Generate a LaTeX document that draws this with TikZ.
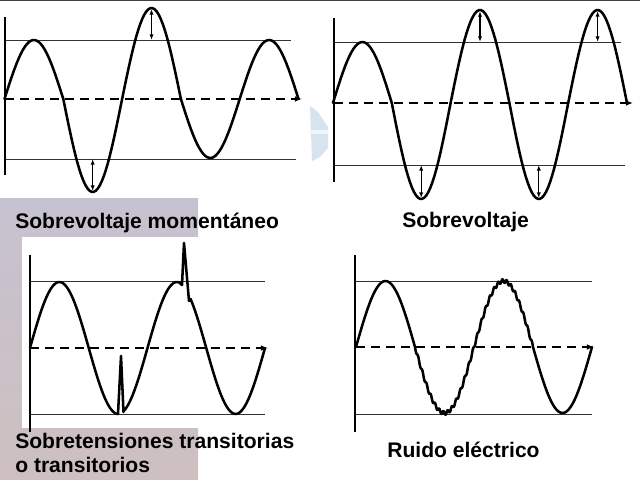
\documentclass[tikz,border=0pt]{standalone}
\usepackage{fontspec}
\setmainfont{Liberation Sans}
\usetikzlibrary{arrows.meta}
\definecolor{photoTop}{RGB}{198,194,208}
\definecolor{photoMid}{RGB}{204,160,160}
\definecolor{photoBot}{RGB}{206,192,192}
\definecolor{logoBlue}{RGB}{216,227,240}
\begin{document}
\begin{tikzpicture}[x=0.025cm,y=-0.025cm,
  wave/.style={line width=1.8pt,line cap=round,line join=round},
  axisline/.style={line width=1.6pt},
  refline/.style={line width=0.6pt,black!80},
  zeroline/.style={line width=1.5pt,dash pattern=on 6.4pt off 4.3pt,-{Latex[length=5pt,width=4pt]}},
  surge/.style={line width=0.8pt,{Latex[length=4pt,width=3pt]}-{Latex[length=4pt,width=3pt]}},
  caption/.style={font=\fontsize{15}{17}\selectfont\bfseries,anchor=base west,inner sep=0pt}]
\useasboundingbox (0,0) rectangle (640,480);
% background
\fill[top color=photoTop,middle color=photoMid,bottom color=photoBot] (0,198) rectangle (198,480);
\fill[white] (22,237) rectangle (200,428);
\fill[logoBlue] (310,106) -- (318,112) -- (328,127) -- (328,148) -- (320,157) -- (312,161) -- cycle;
\fill[white!60!logoBlue] (310,130) rectangle (328,134);
\fill[black!75] (0,0) rectangle (640,1.5);
% Sobrevoltaje momentaneo
\draw[refline] (5,40) -- (291,40);
\draw[refline] (5,159) -- (296,159);
\draw[zeroline] (5,99) -- (302,99);
\draw[axisline] (5,17) -- (5,175);
\foreach \a/\b/\amp in {0/180/59,180/360/93,360/540/91,540/720/59,720/900/59}
  \draw[wave] plot[domain=\a:\b,samples=30] ({4.5+\x/180*58.8},{99-\amp*sin(\x)});
\draw[surge] (92.7,159) -- (92.7,191);
\draw[surge] (151.5,40) -- (151.5,9);
\node[caption] (capA) at (15,228) {Sobrevoltaje momentáneo};
% Sobrevoltaje
\draw[refline] (334,42) -- (621,42);
\draw[refline] (334,165) -- (625,165);
\draw[zeroline] (334,103) -- (633,103);
\draw[axisline] (334,18) -- (334,182);
\foreach \a/\b/\amp in {0/180/61,180/360/96,360/540/93,540/720/96,720/900/93}
  \draw[wave] plot[domain=\a:\b,samples=30] ({333+\x/180*58.8},{103-\amp*sin(\x)});
\foreach \xs in {421.2,538.8} \draw[surge] (\xs,165) -- (\xs,198);
\foreach \xs in {480,597.6} \draw[surge] (\xs,42) -- (\xs,11);
\node[caption] (capB) at (402,227) {Sobrevoltaje};
% Sobretensiones transitorias
\draw[refline] (30,281) -- (265,281);
\draw[refline] (30,414) -- (265,414);
\draw[zeroline] (30,348) -- (268,348);
\draw[axisline] (30,255) -- (30,432);
\draw[wave] plot[domain=0:269.6,samples=60] ({30+\x/180*58.75},{348-66*sin(\x)})
  -- (121,356) -- (123.5,412)
  -- plot[domain=287:459,samples=40] ({30+\x/180*58.75},{348-66*sin(\x)})
  -- (182,285) -- (184,243) -- (189,301)
  -- plot[domain=492:720,samples=50] ({30+\x/180*58.75},{348-66*sin(\x)});
\node[caption] (capC1) at (15,448) {Sobretensiones transitorias};
\node[caption] (capC2) at (15,472) {o transitorios};
% Ruido electrico
\draw[refline] (356,281) -- (592,281);
\draw[refline] (356,414) -- (592,414);
\draw[zeroline] (356,347) -- (594,347);
\draw[axisline] (355,255) -- (355,432);
\draw[wave] plot[domain=0:180,samples=40] ({356+\x/180*59},{347-66*sin(\x)})
  -- plot[domain=180:540,samples=400] ({356+\x/180*59},{347-66*sin(\x)+1.8*sin(28*(\x-180))})
  -- plot[domain=540:720,samples=40] ({356+\x/180*59},{347-66*sin(\x)});
\node[caption] (capD) at (387,457) {Ruido eléctrico};
\end{tikzpicture}
\end{document}
